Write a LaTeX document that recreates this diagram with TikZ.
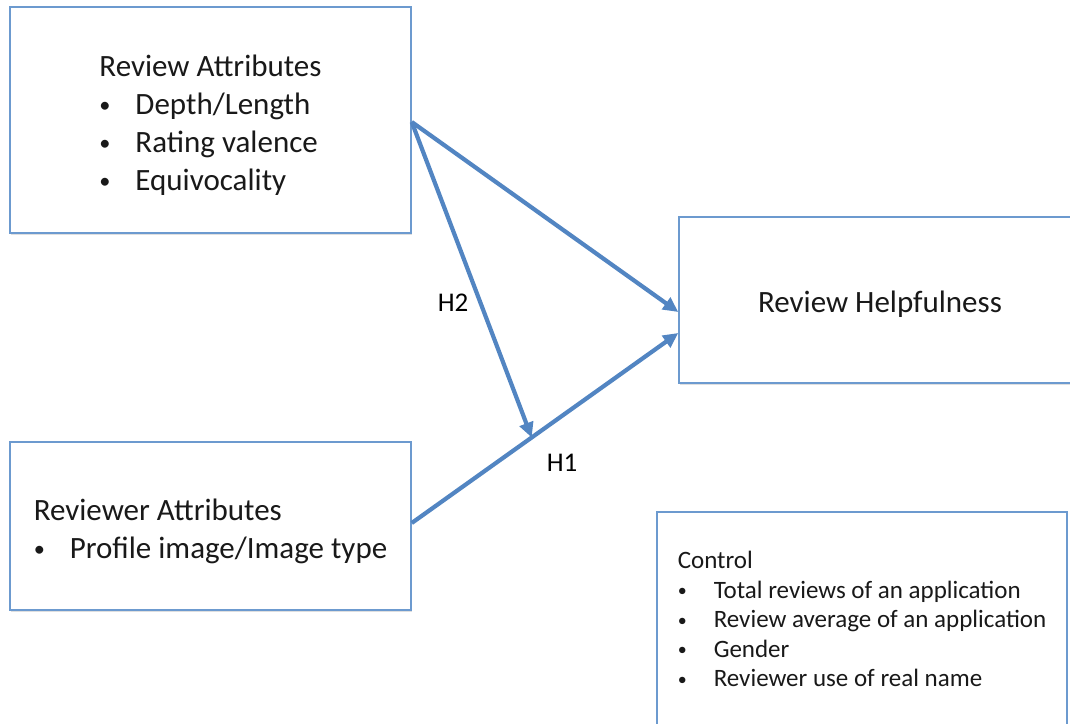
\documentclass[tikz,border=0pt]{standalone}
\usepackage{fontspec}
\setmainfont{Carlito}
\usetikzlibrary{positioning,calc,arrows.meta,shadows}
\definecolor{boxblue}{RGB}{108,154,207}
\definecolor{arrowblue}{RGB}{82,133,194}
\newcommand{\bitem}[1]{\makebox[36pt][l]{\raisebox{0.06em}{\scalebox{0.72}{\textbullet}}}#1}
\tikzset{
  factor/.style={draw=boxblue,line width=1.5pt,fill=white,inner sep=0pt,
    drop shadow={shadow xshift=1pt,shadow yshift=-2pt,opacity=0.25}},
  factortext/.style={align=left,inner sep=0pt,text=black!90},
  bigtext/.style={font=\fontsize{31}{38}\selectfont},
  hyparrow/.style={draw=arrowblue,line width=4.2pt,-{Triangle[length=15pt,width=14pt]}},
  hlabel/.style={font=\fontsize{27}{30}\selectfont}
}

\begin{document}
\begin{tikzpicture}[x=1pt,y=-1pt]
\useasboundingbox (0,0) rectangle (1070,723);
\clip (0,0) rectangle (1070,723);
% Factors
\node[factor,minimum width=401pt,minimum height=226pt] (review) at (210.5,120) {};
\node[factortext,bigtext] (reviewtext) at ($(review)+(0,5)$)
  {Review Attributes\\ \bitem{Depth/Length}\\ \bitem{Rating valence}\\ \bitem{Equivocality}};
\node[factor,minimum width=401pt,minimum height=168pt] (reviewer) at (210.5,526) {};
\node[factortext,bigtext] (reviewertext) at ($(reviewer)+(0,5)$)
  {Reviewer Attributes\\ \bitem{Profile image/Image type}};
\node[factor,minimum width=402pt,minimum height=166pt] (help) at (880,300) {};
\node[factortext,bigtext] (helptext) at ($(help)+(0,4)$) {Review Helpfulness};
% Controls
\node[factor,minimum width=410pt,minimum height=214pt] (ctrl) at (862,619) {};
\node[factortext,font=\fontsize{25}{29.5}\selectfont] (ctrltext) at (ctrl)
  {Control\\ \bitem{Total reviews of an application}\\ \bitem{Review average of an application}\\
   \bitem{Gender}\\ \bitem{Reviewer use of real name}};
% Hypotheses
\coordinate (helpin1) at ($(help.west)+(0,12)$);
\coordinate (helpin2) at ($(help.west)+(0,33)$);
\draw[hyparrow] ($(review.east)+(0,2)$) -- (helpin1);
\draw[hyparrow] ($(reviewer.east)+(0,-3)$) -- coordinate[pos=0.45] (modpt) (helpin2);
\draw[hyparrow] ($(review.east)+(0,2)$) -- (modpt);
\node[hlabel] (h2) at (453,303) {H2};
\node[hlabel] (h1) at (562,463) {H1};
\end{tikzpicture}
\end{document}
